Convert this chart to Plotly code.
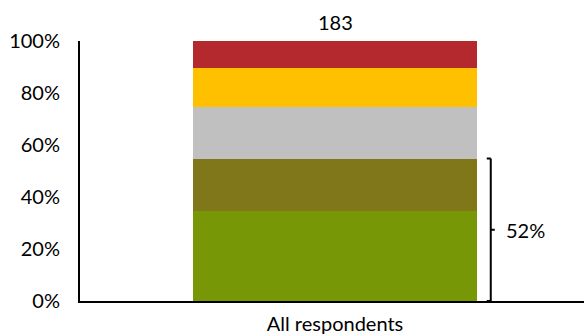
import plotly.graph_objects as go

# Survey response shares, stacked bottom to top
category = ["All respondents"]
segment_names = ["Strongly agree", "Agree", "Neutral", "Disagree", "Strongly disagree"]
segment_values = [34.5, 20.3, 20.0, 15.0, 10.2]
segment_colors = ["#779707", "#7F7719", "#C0C0C0", "#FFC000", "#B3292E"]
respondent_count = [183]
bracket_label = "52%"
tick_values = [0, 20, 40, 60, 80, 100]
tick_labels = ["0%", "20%", "40%", "60%", "80%", "100%"]

font_family = "Lato, 'Open Sans', sans-serif"
font_size = 20

fig = go.Figure()
for name, val, col in zip(segment_names, segment_values, segment_colors):
    fig.add_trace(go.Bar(
        x=category, y=[val], name=name,
        marker=dict(color=col, line=dict(width=0)),
        width=0.5635, hoverinfo="skip",
    ))

# Count label above the bar
total = sum(segment_values)
fig.add_annotation(
    x=category[0], y=total, text=str(respondent_count[0]),
    showarrow=False, yanchor="bottom", yshift=5,
    font=dict(family=font_family, size=font_size, color="black"),
)

# Bracket spanning the two lowest segments
bracket_top = segment_values[0] + segment_values[1]
bx = 0.815
tick_px = 4 / 504
line_style = dict(color="black", width=2)
fig.add_shape(type="line", xref="paper", yref="y", x0=bx, x1=bx, y0=0, y1=bracket_top, line=line_style)
fig.add_shape(type="line", xref="paper", yref="y", x0=bx - tick_px, x1=bx, y0=bracket_top, y1=bracket_top, line=line_style)
fig.add_shape(type="line", xref="paper", yref="y", x0=bx - tick_px, x1=bx, y0=0, y1=0, line=line_style)
fig.add_shape(type="line", xref="paper", yref="y", x0=bx, x1=bx + tick_px, y0=bracket_top / 2, y1=bracket_top / 2, line=line_style)
fig.add_annotation(
    xref="paper", yref="y", x=bx + 13 / 504, y=bracket_top / 2,
    text=bracket_label, showarrow=False, xanchor="left", yanchor="middle",
    font=dict(family=font_family, size=font_size, color="black"),
)

fig.update_layout(
    barmode="stack",
    width=584, height=336,
    margin=dict(l=80, r=0, t=41, b=35),
    paper_bgcolor="white", plot_bgcolor="white",
    showlegend=False,
    font=dict(family=font_family, size=font_size, color="black"),
    xaxis=dict(
        range=[-0.506, 0.494], showline=True, linecolor="black", linewidth=2,
        ticks="", showgrid=False, zeroline=False, ticklabelstandoff=4,
        tickfont=dict(size=font_size, color="black"),
    ),
    yaxis=dict(
        range=[0, 100], tickmode="array", tickvals=tick_values, ticktext=tick_labels,
        showline=True, linecolor="black", linewidth=2,
        ticks="", showgrid=False, zeroline=False, ticklabelstandoff=14,
        tickfont=dict(size=font_size, color="black"),
    ),
)

fig.write_html("out.html")
